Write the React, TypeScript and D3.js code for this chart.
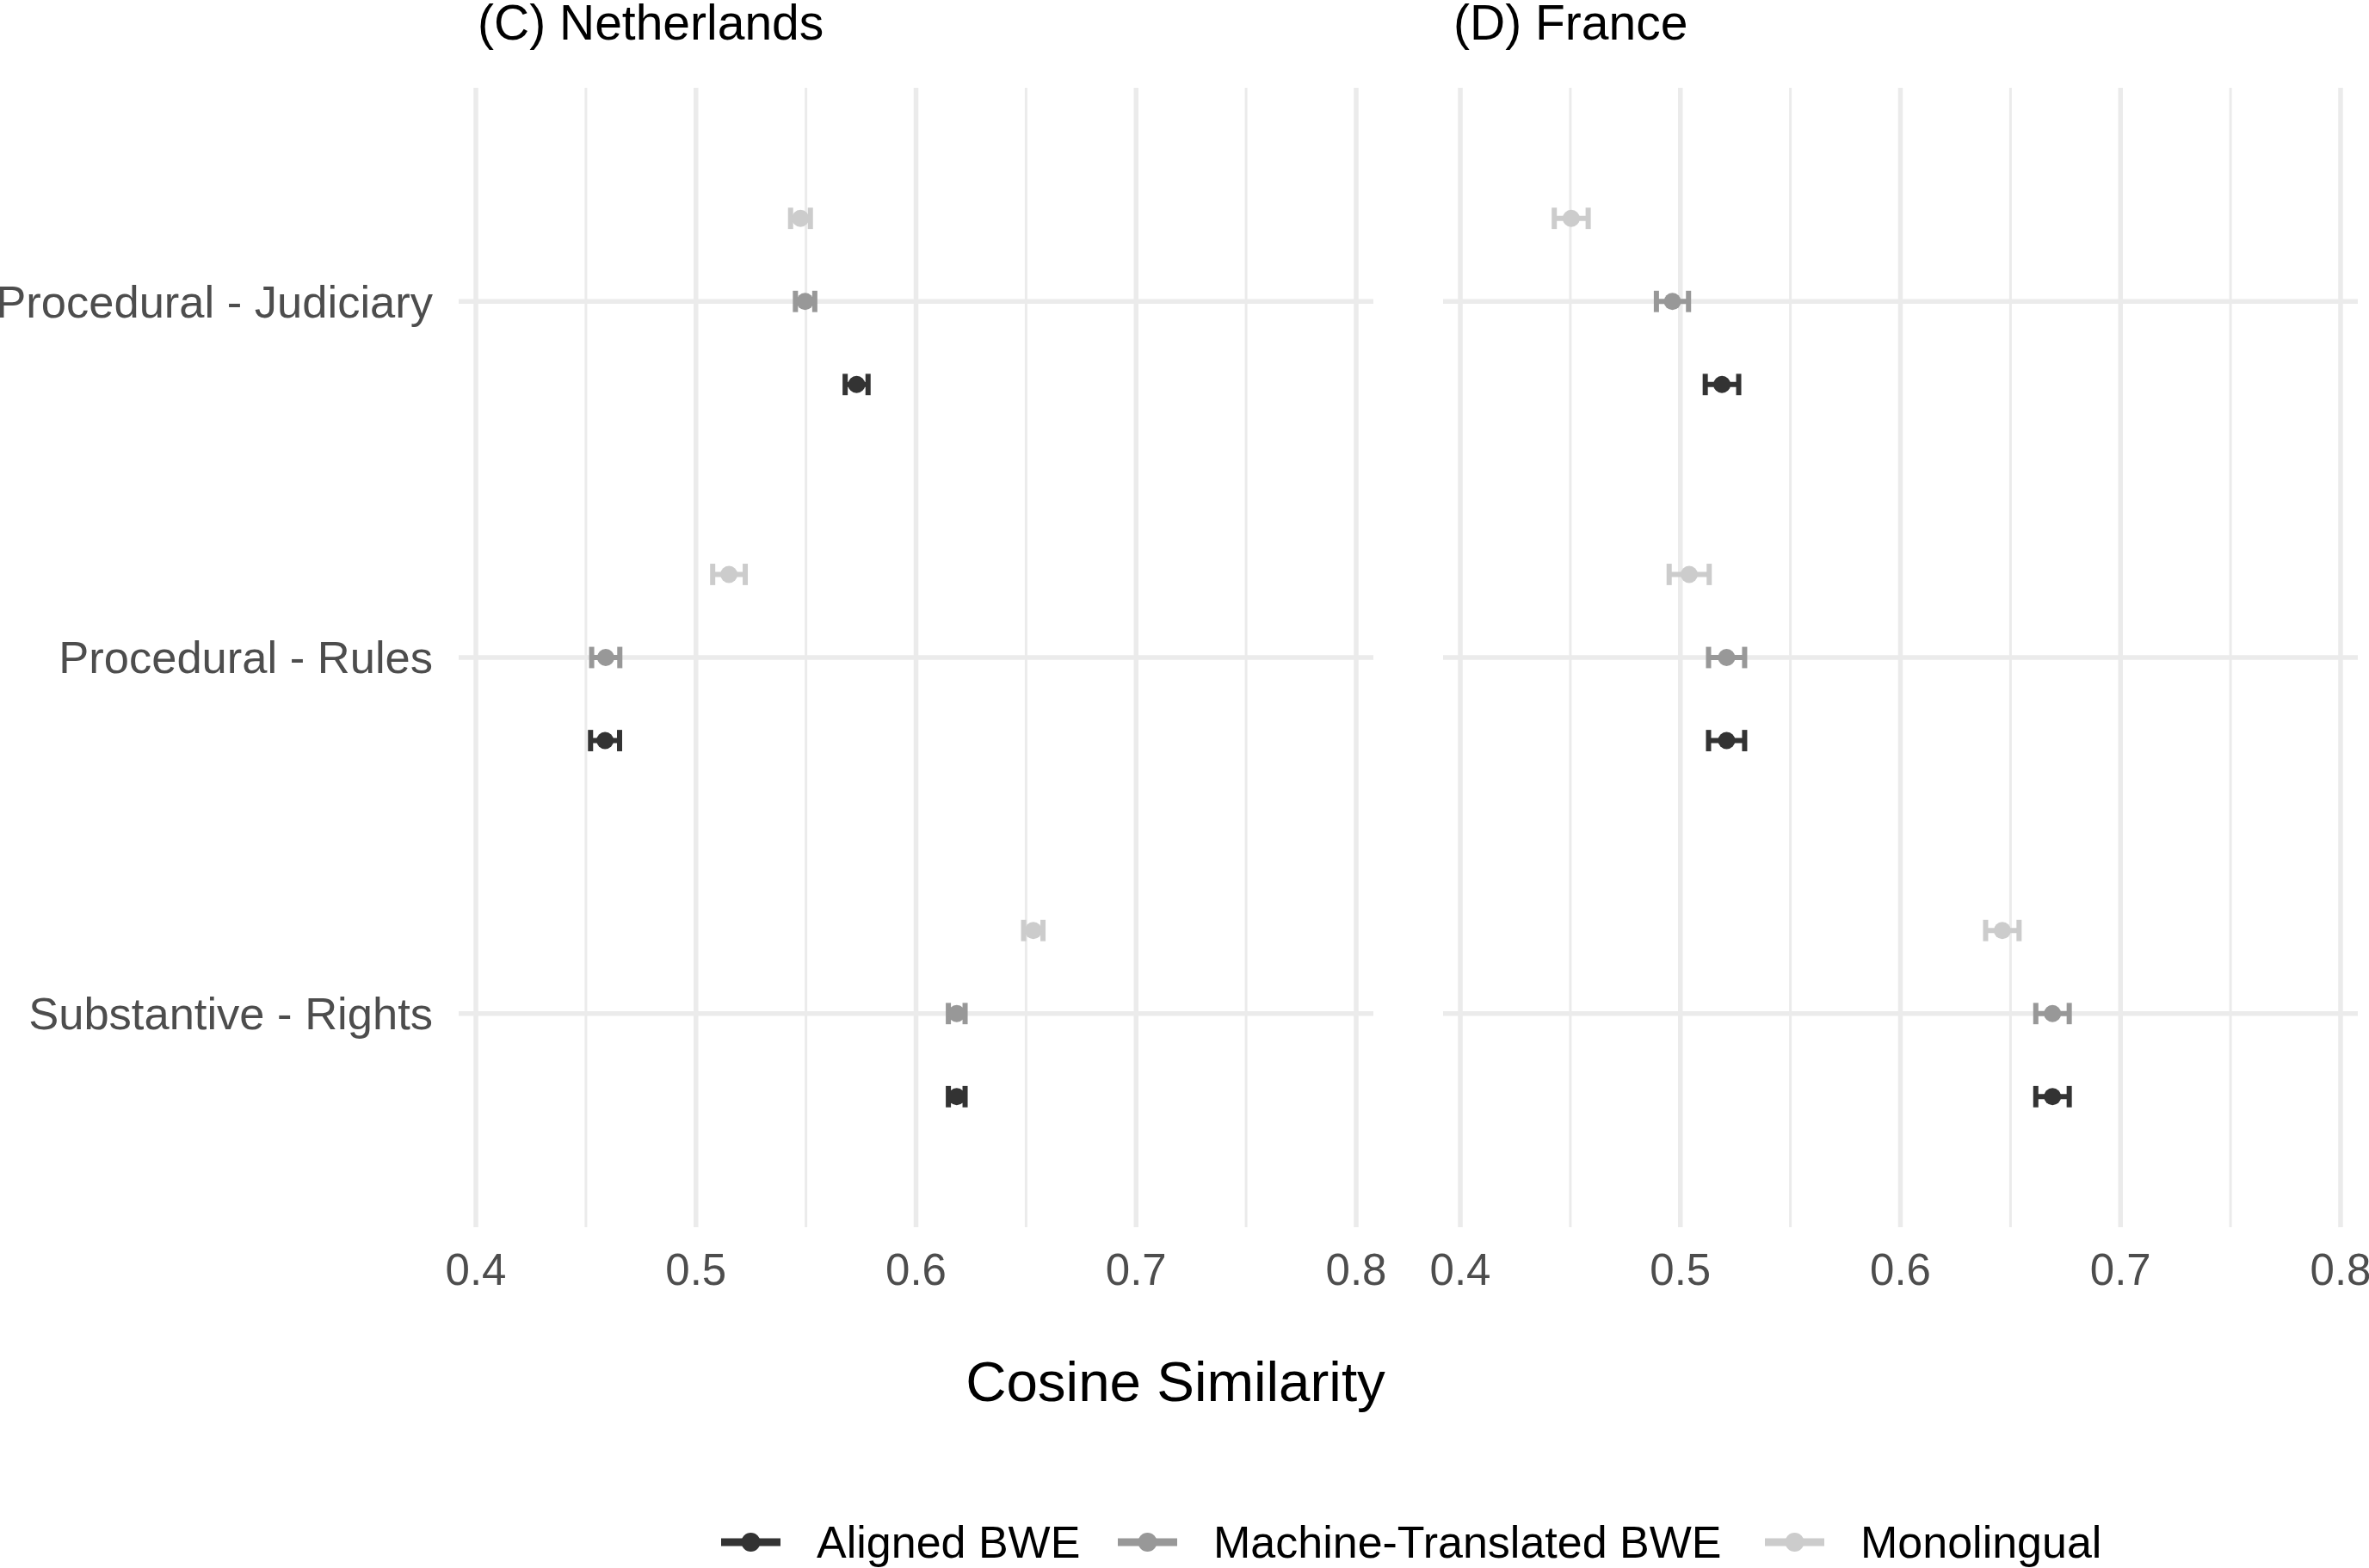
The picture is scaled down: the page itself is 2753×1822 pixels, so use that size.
import React from "react";
import * as d3 from "d3";

const categories = ["Procedural - Judiciary", "Procedural - Rules", "Substantive - Rights"];
const methods = ["Monolingual", "Machine-Translated BWE", "Aligned BWE"];
const legendOrder = ["Aligned BWE", "Machine-Translated BWE", "Monolingual"];
const methodColors = ["#CCCCCC", "#989898", "#333333"];
const panelTitles = ["(C) Netherlands", "(D) France"];
const xTicks = [0.4, 0.5, 0.6, 0.7, 0.8];
const xMinorTicks = [0.45, 0.55, 0.65, 0.75];

// Netherlands: mean and half-width per method, per category
const nlMonolingual = [0.5475, 0.515, 0.6533];
const nlMonolingualErr = [0.0045, 0.0074, 0.0044];
const nlMachine = [0.5496, 0.459, 0.6185];
const nlMachineErr = [0.0044, 0.0064, 0.0038];
const nlAligned = [0.573, 0.4587, 0.6185];
const nlAlignedErr = [0.0052, 0.0066, 0.0038];

// France
const frMonolingual = [0.4504, 0.504, 0.6463];
const frMonolingualErr = [0.0077, 0.0091, 0.0076];
const frMachine = [0.4964, 0.521, 0.6691];
const frMachineErr = [0.0073, 0.0082, 0.0076];
const frAligned = [0.5189, 0.521, 0.6691];
const frAlignedErr = [0.0076, 0.0082, 0.0076];

const panelsData = [
  [
    { vals: nlMonolingual, errs: nlMonolingualErr },
    { vals: nlMachine, errs: nlMachineErr },
    { vals: nlAligned, errs: nlAlignedErr },
  ],
  [
    { vals: frMonolingual, errs: frMonolingualErr },
    { vals: frMachine, errs: frMachineErr },
    { vals: frAligned, errs: frAlignedErr },
  ],
];

const W = 2753;
const H = 1822;
const FONT = "'Liberation Sans', Arial, Helvetica, sans-serif";
const panelLefts = [533, 1677];
const titleX = [555, 1689];
const panelWidth = 1063;
const panelTop = 102;
const panelBottom = 1426;
const GRID = "#EBEBEB";

export default function App() {
  const y = d3
    .scalePoint<string>()
    .domain(categories)
    .range([panelTop, panelBottom])
    .padding(0.6);
  const step = y.step();
  const dodge = d3
    .scalePoint<string>()
    .domain(methods)
    .range([-step * 0.7 / 3, step * 0.7 / 3]);
  const capHalf = step * 0.03;

  const legendKeyX = [838, 1299, 2051];

  return (
    <svg
      width={W}
      height={H}
      style={{ position: "absolute", left: 0, top: 0, background: "#fff" }}
      fontFamily={FONT}
    >
      <rect x={0} y={0} width={W} height={H} fill="#fff" />
      {panelsData.map((panel, pi) => {
        const left = panelLefts[pi];
        const x = d3
          .scaleLinear()
          .domain([0.39217, 0.80783])
          .range([left, left + panelWidth]);
        return (
          <g key={pi}>
            {xMinorTicks.map((t) => (
              <line
                key={"mn" + t}
                x1={x(t)}
                x2={x(t)}
                y1={panelTop}
                y2={panelBottom}
                stroke={GRID}
                strokeWidth={3}
              />
            ))}
            {xTicks.map((t) => (
              <line
                key={"mj" + t}
                x1={x(t)}
                x2={x(t)}
                y1={panelTop}
                y2={panelBottom}
                stroke={GRID}
                strokeWidth={5.5}
              />
            ))}
            {categories.map((c) => (
              <line
                key={"h" + c}
                x1={left}
                x2={left + panelWidth}
                y1={y(c)}
                y2={y(c)}
                stroke={GRID}
                strokeWidth={5.5}
              />
            ))}
            {xTicks.map((t) => (
              <text
                key={"xt" + t}
                x={x(t)}
                y={1493}
                textAnchor="middle"
                fontSize={51}
                fill="#4D4D4D"
              >
                {t.toFixed(1)}
              </text>
            ))}
            <text x={titleX[pi]} y={46} fontSize={57} fill="#000">
              {panelTitles[pi]}
            </text>
            {panel.map((series, si) =>
              series.vals.map((v, ci) => {
                const cy = (y(categories[ci]) as number) + (dodge(methods[si]) as number);
                const x0 = x(v - series.errs[ci]);
                const x1 = x(v + series.errs[ci]);
                const col = methodColors[si];
                return (
                  <g key={"p" + si + "-" + ci}>
                    <line x1={x0} x2={x1} y1={cy} y2={cy} stroke={col} strokeWidth={6} />
                    <line x1={x0} x2={x0} y1={cy - capHalf} y2={cy + capHalf} stroke={col} strokeWidth={6} />
                    <line x1={x1} x2={x1} y1={cy - capHalf} y2={cy + capHalf} stroke={col} strokeWidth={6} />
                    <circle cx={x(v)} cy={cy} r={10} fill={col} />
                  </g>
                );
              })
            )}
          </g>
        );
      })}
      {categories.map((c) => (
        <text
          key={"yl" + c}
          x={503}
          y={y(c)}
          dy="0.35em"
          textAnchor="end"
          fontSize={52.5}
          fill="#4D4D4D"
        >
          {c}
        </text>
      ))}
      <text x={1366} y={1628} textAnchor="middle" fontSize={65.5} fill="#000">
        Cosine Similarity
      </text>
      {legendOrder.map((m, i) => {
        const col = methodColors[methods.indexOf(m)];
        const kx = legendKeyX[i];
        return (
          <g key={"lg" + m}>
            <line x1={kx} x2={kx + 69} y1={1792} y2={1792} stroke={col} strokeWidth={9} />
            <circle cx={kx + 34.5} cy={1792} r={11} fill={col} />
            <text x={kx + 111} y={1792} dy="0.35em" fontSize={52} fill="#000">
              {m}
            </text>
          </g>
        );
      })}
    </svg>
  );
}
